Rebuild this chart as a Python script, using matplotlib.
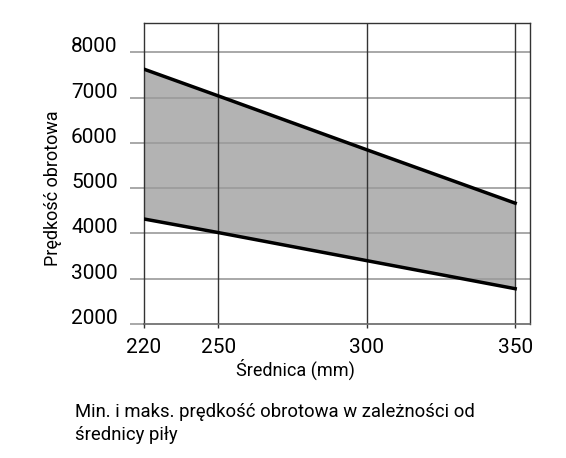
import numpy as np
import matplotlib
matplotlib.use("Agg")
import matplotlib.pyplot as plt

plt.rcParams['font.family'] = ['Roboto', 'DejaVu Sans']

# dane
srednica = [220, 250, 300, 350]
obroty_max = [7630, 7040, 5850, 4670]
obroty_min = [4320, 4020, 3400, 2780]
xticks = [220, 250, 300, 350]
yticks = [2000, 3000, 4000, 5000, 6000, 7000, 8000]

# os X nie jest liniowa: odcinek 220-250 ma polowe szerokosci 50 mm
src = [200, 220, 250, 300, 350, 400]
dst = [205, 225, 250, 300, 350, 400]


def fwd(x):
    return np.interp(x, src, dst)


def inv(x):
    return np.interp(x, dst, src)


fig = plt.figure(figsize=(5.66, 4.58), dpi=100)
ax = fig.add_axes([144 / 566, 1 - 324 / 458, (530 - 144) / 566, (324 - 23) / 458])
ax.set_xscale('function', functions=(fwd, inv))

ax.fill_between(srednica, obroty_min, obroty_max, color='#b3b3b3', lw=0, zorder=1)
for yv in yticks[1:]:
    ax.axhline(yv, color='#9a9a9a', lw=1.2, zorder=2)
for xv in xticks[1:]:
    ax.axvline(xv, color='#333333', lw=1.0, zorder=2)
ax.plot(srednica, obroty_max, color='black', lw=2.5, zorder=3)
ax.plot(srednica, obroty_min, color='black', lw=2.5, zorder=3)

ax.set_xlim(220, 355)
ax.set_ylim(2000, 8650)
ax.set_xticks(xticks)
ax.set_yticks(yticks)
ax.tick_params(axis='y', length=10, width=1.2, color='#9a9a9a', pad=9, labelsize=15)
ax.tick_params(axis='x', length=3, width=1.0, color='#333333', pad=7, labelsize=15)
for lab in ax.get_yticklabels():
    lab.set_verticalalignment('baseline')

for s in ['left', 'top', 'right']:
    ax.spines[s].set_color('#333333')
    ax.spines[s].set_linewidth(1.0)
ax.spines['bottom'].set_color('#666666')
ax.spines['bottom'].set_linewidth(1.2)

ax.set_xlabel('Średnica (mm)', fontsize=13)
ax.xaxis.set_label_coords((295 - 144) / 386, (324 - 369) / 301)
ax.xaxis.label.set_verticalalignment('center')
ax.set_ylabel('Prędkość obrotowa', fontsize=13)
ax.yaxis.set_label_coords((53 - 144) / 386, (324 - 188) / 301)
ax.yaxis.label.set_verticalalignment('center')

fig.text(75 / 566, 1 - 412 / 458, 'Min. i maks. prędkość obrotowa w zależności od',
         fontsize=13.3, va='center', ha='left')
fig.text(75 / 566, 1 - 435 / 458, 'średnicy piły',
         fontsize=13.3, va='center', ha='left')

fig.savefig('out.png', dpi=100)
